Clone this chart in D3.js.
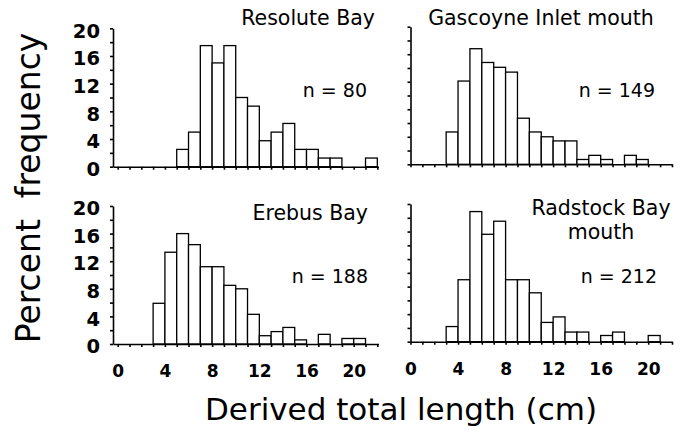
<!DOCTYPE html>
<html>
<head>
<meta charset="utf-8">
<script src="https://cdn.jsdelivr.net/npm/d3@7"></script>
<style>
  body { margin: 0; background: #fff; }
</style>
</head>
<body>
<script>
/* ------------------------------ document size ----------------------------- */
const width = 694, height = 432;

/* ---------------------------------- data ---------------------------------- */
// percent frequency in 1 cm bins, first bin is 0-1 cm
const resolute = [0, 0, 0, 0, 0, 2.5, 5, 17.5, 15, 17.5, 10, 8.75, 3.75, 5, 6.25, 2.5, 2.5, 1.25, 1.25, 0, 0, 1.25];
const gascoyne = [0, 0, 0, 4.7, 12.1, 16.8, 14.8, 14.1, 13.4, 6.7, 4.7, 4.0, 3.4, 3.4, 0.7, 1.3, 0.7, 0, 1.3, 0.7, 0, 0];
const erebus   = [0, 0, 0, 5.9, 13.3, 16.0, 14.4, 11.2, 11.2, 8.5, 8.0, 4.3, 1.2, 1.8, 2.4, 0.6, 0, 1.4, 0, 0.8, 0.8, 0];
const radstock = [0, 0, 0, 2.2, 9.0, 18.9, 15.6, 17.5, 9.0, 9.0, 7.1, 2.8, 3.6, 1.4, 1.4, 0, 0.9, 1.4, 0, 0, 0.9, 0];

const siteNames = [["Resolute Bay"], ["Gascoyne Inlet mouth"], ["Erebus Bay"], ["Radstock Bay", "mouth"]];
const sampleSizes = [80, 149, 188, 212];
const xLabelTicks = [0, 4, 8, 12, 16, 20];
const yLabelTicks = [0, 4, 8, 12, 16, 20];

/* ------------------------------ panel layout ------------------------------ */
const panels = [
  { values: resolute, name: siteNames[0], n: sampleSizes[0], xd: [-0.4, 22.1], xr: [113, 378.5], yr: [166.7, 28.3],
    left: true, bottom: false, tx: 375, ta: "end", ty: 25, nx: 367, ny: 97 },
  { values: gascoyne, name: siteNames[1], n: sampleSizes[1], xd: [0, 22], xr: [410.5, 672], yr: [164.3, 26.7],
    left: false, bottom: false, tx: 541, ta: "middle", ty: 25, nx: 655, ny: 97 },
  { values: erebus, name: siteNames[2], n: sampleSizes[2], xd: [-0.4, 22.1], xr: [113, 378.5], yr: [344, 206],
    left: true, bottom: true, tx: 368, ta: "end", ty: 220, nx: 368, ny: 283 },
  { values: radstock, name: siteNames[3], n: sampleSizes[3], xd: [0, 22], xr: [410.5, 672], yr: [341.7, 204],
    left: false, bottom: true, tx: 601, ta: "middle", ty: 215, nx: 657, ny: 283 }
];

/* ----------------------------- create main svg ---------------------------- */
const svg = d3.select("body").append("svg").attr("width", width).attr("height", height)
  .style("font-family", "'DejaVu Sans', sans-serif");

panels.forEach(p => {
  const x = d3.scaleLinear().domain(p.xd).range(p.xr);
  const y = d3.scaleLinear().domain([0, 20]).range(p.yr);
  const g = svg.append("g");

  //bars (empty bins are left out)
  g.selectAll("rect").data(p.values.map((v, i) => ({ v, i })).filter(d => d.v > 0))
    .enter().append("rect")
    .attr("x", d => x(d.i))
    .attr("width", d => x(d.i + 1) - x(d.i))
    .attr("y", d => y(d.v))
    .attr("height", d => y(0) - y(d.v))
    .attr("fill", "#fff")
    .attr("stroke", "#000")
    .attr("stroke-width", 1.3);

  //x axis: a tick every cm, labels every 4 cm on the bottom row
  const xAxis = d3.axisBottom(x).tickValues(d3.range(0, 23)).tickSize(3).tickSizeOuter(0).tickPadding(18)
    .tickFormat(d => p.bottom && xLabelTicks.includes(d) ? d : "");
  const gx = g.append("g").attr("transform", `translate(0,${y(0)})`).call(xAxis)
    .attr("font-size", 17);

  //y axis: a tick every 2 %, labels every 4 % on the left column
  const yAxis = d3.axisLeft(y).tickValues(d3.range(0, 21, 2)).tickSize(3).tickSizeOuter(0).tickPadding(10)
    .tickFormat(d => p.left && yLabelTicks.includes(d) ? d : "");
  const gy = g.append("g").attr("transform", `translate(${p.xr[0]},0)`).call(yAxis)
    .attr("font-size", 19.5);
  gy.selectAll("text").attr("dy", "0.45em");

  [gx, gy].forEach(a => {
    a.attr("font-family", "'DejaVu Sans', sans-serif").attr("font-weight", "bold");
    a.selectAll("path, line").attr("stroke", "#000").attr("stroke-width", 1.6);
    a.selectAll("text").attr("fill", "#000");
  });

  //site name (one text per line) and sample size
  p.name.forEach((line, i) => {
    g.append("text").attr("x", p.tx).attr("y", p.ty + i * 24).attr("text-anchor", p.ta)
      .attr("font-size", 20.5).text(line);
  });
  g.append("text").attr("x", p.nx).attr("y", p.ny).attr("text-anchor", "end")
    .attr("font-size", 19).text("n = " + p.n);
});

/* ------------------------------- axis titles ------------------------------ */
svg.append("text").attr("x", 401).attr("y", 420).attr("text-anchor", "middle")
  .attr("font-size", 31).text("Derived total length (cm)");
svg.append("text").attr("transform", "translate(40,188) rotate(-90)").attr("text-anchor", "middle")
  .attr("font-size", 33).text("Percent  frequency").style("white-space", "pre");
</script>
</body>
</html>
